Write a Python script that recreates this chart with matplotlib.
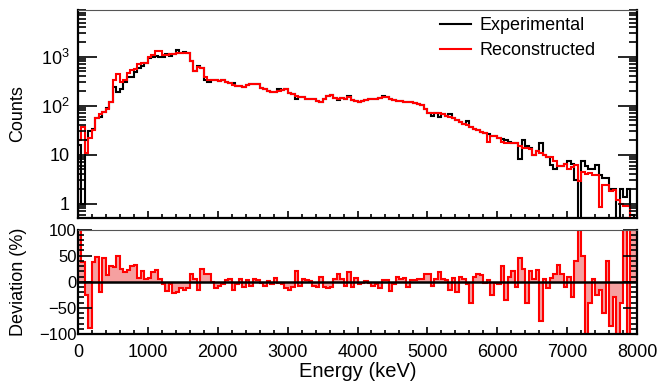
import numpy as np
import matplotlib; matplotlib.use("Agg")
import matplotlib.pyplot as plt
from matplotlib.ticker import FixedLocator, MultipleLocator, FuncFormatter, LogLocator, NullFormatter

plt.rcParams['font.family'] = ['Liberation Sans', 'DejaVu Sans']
plt.rcParams['mathtext.fontset'] = 'custom'
plt.rcParams['mathtext.rm'] = 'Liberation Sans'

# 50 keV bins, 0 - 8000 keV
edges = np.arange(0, 8001, 50)

experimental = [
    16, 1, 20, 30, 33, 55, 60, 75, 90, 120,
    240, 190, 220, 300, 380, 390, 480, 600, 640, 760,
    950, 1000, 1050, 1000, 1000, 1120, 1050, 1120, 1350, 1200,
    1250, 1200, 800, 520, 650, 600, 330, 310, 340, 340,
    320, 335, 300, 295, 290, 255, 250, 245, 260, 275,
    278, 272, 230, 215, 200, 195, 192, 215, 205, 216,
    185, 175, 135, 152, 150, 140, 135, 135, 125, 120,
    140, 160, 162, 145, 128, 142, 140, 158, 130, 122,
    120, 125, 132, 135, 138, 140, 142, 160, 148, 135,
    128, 125, 122, 120, 118, 117, 116, 110, 103, 85,
    72, 62, 70, 60, 68, 62, 68, 55, 50, 46,
    43, 48, 37, 33, 32, 29, 27.5, 26, 24, 24,
    22, 21, 20, 18, 17, 17, 8, 20, 15, 14,
    10, 12, 17, 10, 9, 6.2, 5, 6, 5.9, 6.6,
    7.4, 6.5, 3, 0, 7.4, 6, 5, 5, 6.2, 3.9,
    3.3, 3.3, 2.0, 2.0, 0, 2, 1.4, 2.0, 0.6, 0.4,
]

reconstructed = [
    20, 37, 11, 22, 32, 55, 68, 75, 85, 120,
    330, 440, 300, 340, 460, 530, 560, 700, 740, 750,
    1000, 1080, 1330, 1330, 1080, 1100, 1130, 1150, 1180, 1200,
    1220, 1200, 830, 520, 620, 600, 390, 340, 340, 330,
    325, 335, 300, 295, 265, 255, 250, 245, 260, 275,
    278, 272, 230, 215, 200, 195, 192, 198, 205, 216,
    185, 175, 158, 152, 150, 140, 135, 135, 125, 120,
    140, 160, 162, 145, 140, 142, 140, 148, 130, 122,
    120, 125, 132, 135, 138, 140, 142, 150, 148, 135,
    128, 125, 122, 120, 118, 117, 116, 110, 103, 85,
    72, 70, 70, 72, 68, 62, 60, 55, 50, 46,
    43, 41, 37, 33, 32, 29, 27.5, 18, 24, 24,
    22, 18, 17.5, 17, 17, 17.5, 15, 14, 14, 13,
    10, 12, 11, 10, 9, 9, 7.5, 6, 5.9, 6.6,
    5.1, 5.5, 6.2, 2.9, 4.5, 4, 4.2, 3.8, 3.9, 0.87,
    2.4, 2.4, 1.8, 1.9, 1.2, 1.0, 0.9, 0.9, 0.4, 0.4,
]

deviation = [
    150, 37, -25, -88, 38, 48, -20, 45, 12, 30,
    28, 50, 25, 18, 22, 30, 32, 8, 20, 5,
    8, 18, 22, 5, -5, -18, -5, -22, -20, -12,
    -15, -12, 15, 5, -15, 25, 15, 15, 0, -12,
    -8, -5, 3, 5, -15, -5, 5, -10, 3, -8,
    5, 3, -3, -8, 2, -5, 8, -3, -5, -12,
    -15, -10, 20, -8, 5, 3, 2, -8, -10, 10,
    -10, -12, -10, 5, 15, 5, -8, 18, -10, 8,
    -5, -3, 2, -3, -8, -5, -12, 3, 3, -18,
    -5, 10, 5, 8, -10, 3, 3, 5, 5, 15,
    15, -8, 5, 18, 5, 3, -15, 8, -20, 10,
    5, -5, -40, 10, 15, 12, -3, 3, -25, -3,
    -5, 30, -35, 10, 20, -10, 45, 25, -40, 20,
    5, 22, -75, 5, -12, 8, 15, 32, 15, -10,
    10, -30, 40, 150, 50, -150, -40, 5, -25, -15,
    -60, 40, -85, -30, -150, -40, 150, -150, 150, 150,
]

fig = plt.figure(figsize=(6.59, 3.85), dpi=100)
ax = fig.add_axes([78/659, 1-218/385, 559/659, 208/385])
ax2 = fig.add_axes([78/659, 1-334/385, 559/659, 104.5/385])

# ---- top: spectra ----
ax.stairs(experimental, edges, color='black', lw=1.5, label='Experimental')
ax.stairs(reconstructed, edges, color='red', lw=1.5, label='Reconstructed')
ax.set_yscale('log', nonpositive='clip')
ax.set_xlim(0, 8000)
ax.set_ylim(0.51, 9000)
ax.yaxis.set_major_locator(FixedLocator([1, 10, 100, 1000]))
ax.yaxis.set_minor_locator(LogLocator(base=10, subs=np.arange(2, 10)))
ax.yaxis.set_minor_formatter(NullFormatter())
ax.yaxis.set_major_formatter(FuncFormatter(
    lambda v, p: '1' if v == 1 else ('10' if v == 10 else r'$10^{%d}$' % round(np.log10(v)))))
ax.xaxis.set_major_locator(MultipleLocator(1000))
ax.xaxis.set_minor_locator(MultipleLocator(200))
ax.tick_params(axis='x', which='both', direction='in', top=False, labelbottom=False)
ax.tick_params(axis='x', which='major', length=5, width=1.2)
ax.tick_params(axis='x', which='minor', length=3, width=1.2)
ax.tick_params(axis='y', which='both', direction='in', left=True, right=True, labelsize=13, pad=6)
ax.tick_params(axis='y', which='major', length=14, width=1.2)
ax.tick_params(axis='y', which='minor', length=6, width=1.2)
ax.set_ylabel('Counts', fontsize=13)
ax.yaxis.set_label_coords(-0.092, 0.5)
ax.legend(loc='upper left', bbox_to_anchor=(0.648, 0.965), frameon=False, fontsize=13,
          handlelength=1.7, handletextpad=0.45, labelspacing=0.45, borderpad=0, borderaxespad=0)

# ---- bottom: deviation ----
ax2.stairs(deviation, edges, baseline=0, fill=True, color='#f5a0a0', lw=0)
ax2.stairs(deviation, edges, baseline=0, color='red', lw=1.5)
ax2.axhline(0, color='black', lw=1.8)
ax2.set_xlim(0, 8000)
ax2.set_ylim(-100, 100)
ax2.xaxis.set_major_locator(MultipleLocator(1000))
ax2.xaxis.set_minor_locator(MultipleLocator(200))
ax2.yaxis.set_major_locator(MultipleLocator(50))
ax2.yaxis.set_minor_locator(MultipleLocator(10))
ax2.tick_params(axis='x', which='both', direction='in', top=False, labelsize=13, pad=7)
ax2.tick_params(axis='x', which='major', length=5, width=1.2)
ax2.tick_params(axis='x', which='minor', length=3, width=1.2)
ax2.tick_params(axis='y', which='both', direction='in', left=True, right=True, labelsize=12, pad=1)
ax2.tick_params(axis='y', which='major', length=10, width=1.2)
ax2.tick_params(axis='y', which='minor', length=4, width=1.2)
ax2.yaxis.set_major_formatter(FuncFormatter(lambda v, p: ('%d' % v).replace('-', '\u2212')))
ax2.set_ylabel('Deviation (%)', fontsize=13)
ax2.yaxis.set_label_coords(-0.092, 0.5)
ax2.set_xlabel('Energy (keV)', fontsize=14.5)
ax2.xaxis.set_label_coords(0.5, -0.27)

for a in (ax, ax2):
    for s in ('left', 'bottom', 'right'):
        a.spines[s].set_linewidth(1.6)
    a.spines['top'].set_linewidth(0.8)
    a.spines['top'].set_color('#555555')

fig.savefig('out.png', dpi=100)
